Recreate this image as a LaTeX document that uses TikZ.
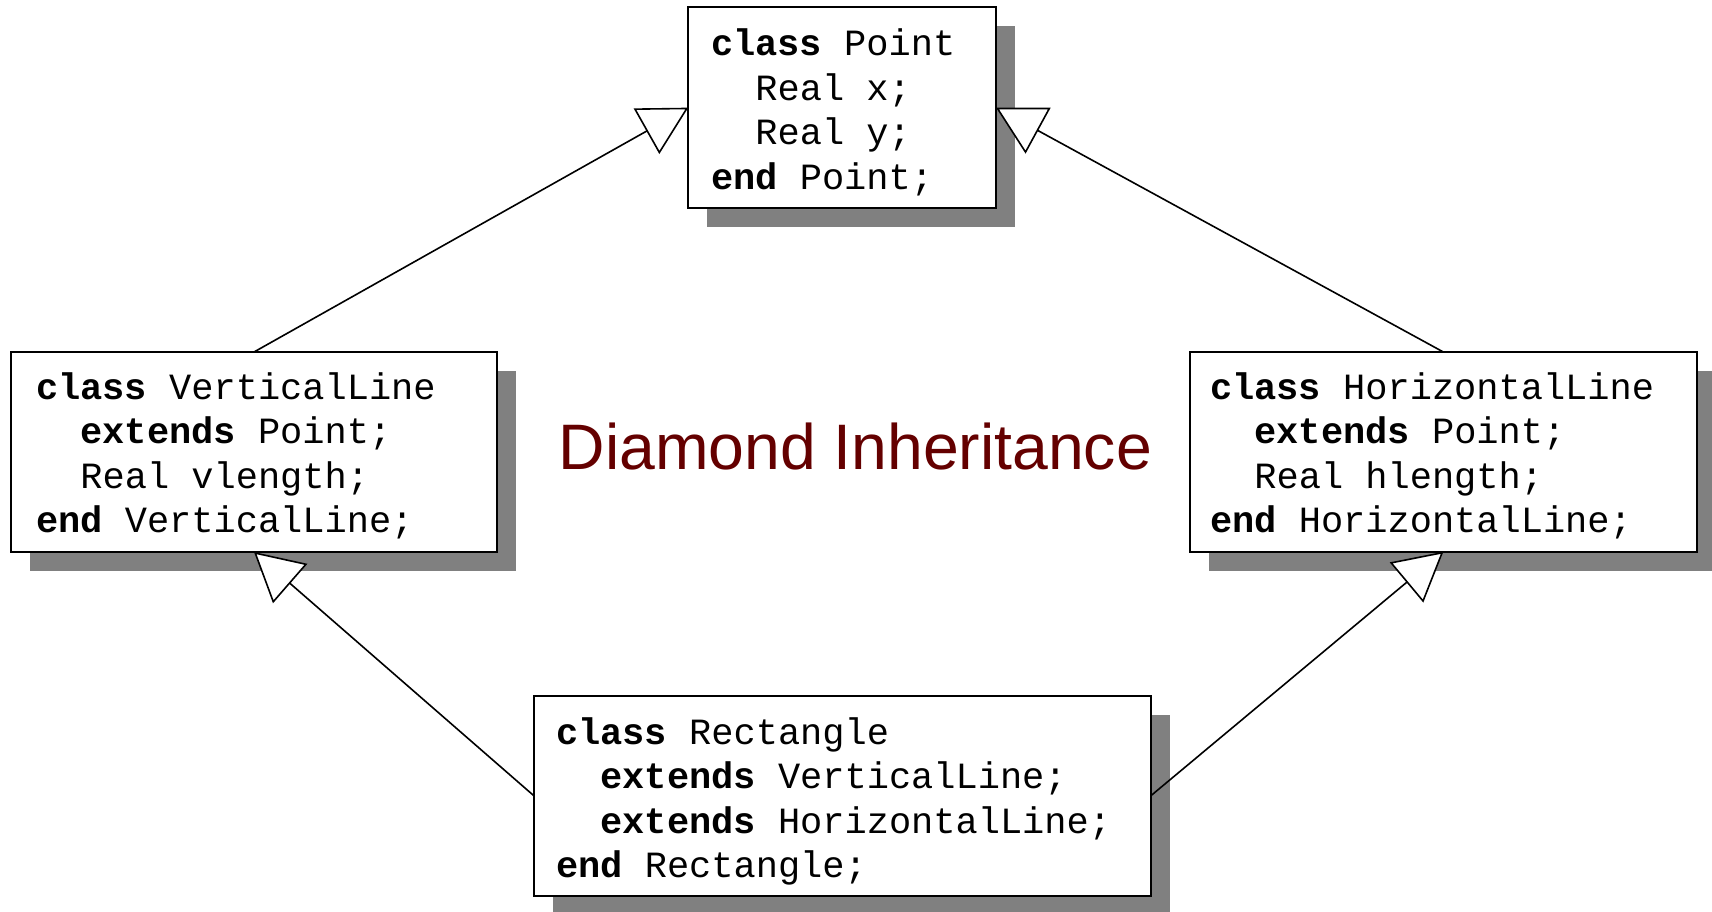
\documentclass[tikz,border=0pt]{standalone}
\usepackage{fontspec}
\setmonofont{Liberation Mono}
\newfontfamily\titlefont{Liberation Sans}
\usetikzlibrary{arrows.meta,shadows}
\definecolor{shadowgray}{RGB}{128,128,128}
\definecolor{titlered}{RGB}{100,0,0}
\newcommand{\kw}[1]{\textbf{#1}}
\newcommand{\ind}{\phantom{xx}}
\begin{document}
\begin{tikzpicture}[x=1pt,y=-1pt,
  cls/.style={draw=black, line width=2pt, fill=white, inner sep=0pt, outer sep=0pt,
    anchor=north west,
    drop shadow={shadow xshift=19pt, shadow yshift=-19pt, fill=shadowgray, opacity=1}},
  code/.style={anchor=base west, inner sep=0pt, font=\ttfamily\fontsize{37}{44.6}\selectfont},
  inherit/.style={line width=1.6pt, -{Triangle[length=48pt, width=52pt, fill=white]}}
]
\useasboundingbox (0,0) rectangle (1712,911);

\node[cls, minimum width=307.7pt, minimum height=200.7pt] (point) at (688.3,7.3) {};
\node[cls, minimum width=486pt, minimum height=200pt] (vl) at (11,352) {};
\node[cls, minimum width=506.7pt, minimum height=199.7pt] (hl) at (1190,352) {};
\node[cls, minimum width=616.7pt, minimum height=200.3pt] (rect) at (534,695.7) {};

\node[code] (pointtxt) at (710.8,55.5) {\begin{tabular}[t]{@{}l@{}}\kw{class} Point\\ \ind Real x;\\ \ind Real y;\\ \kw{end} Point;\end{tabular}};
\node[code] (vltxt) at (35.8,399) {\begin{tabular}[t]{@{}l@{}}\kw{class} VerticalLine\\ \ind\kw{extends} Point;\\ \ind Real vlength;\\ \kw{end} VerticalLine;\end{tabular}};
\node[code] (hltxt) at (1209.8,399) {\begin{tabular}[t]{@{}l@{}}\kw{class} HorizontalLine\\ \ind\kw{extends} Point;\\ \ind Real hlength;\\ \kw{end} HorizontalLine;\end{tabular}};
\node[code] (recttxt) at (555.8,744) {\begin{tabular}[t]{@{}l@{}}\kw{class} Rectangle\\ \ind\kw{extends} VerticalLine;\\ \ind\kw{extends} HorizontalLine;\\ \kw{end} Rectangle;\end{tabular}};

\node[anchor=base west, inner sep=0pt, font=\titlefont\fontsize{64.3}{70}\selectfont, text=titlered] (title) at (558.5,469.5) {Diamond Inheritance};

\draw[inherit] (vl.north) -- (point.west);
\draw[inherit] (hl.north) -- (point.east);
\draw[inherit] (rect.west) -- (vl.south);
\draw[inherit] (rect.east) -- (hl.south);
\end{tikzpicture}
\end{document}
